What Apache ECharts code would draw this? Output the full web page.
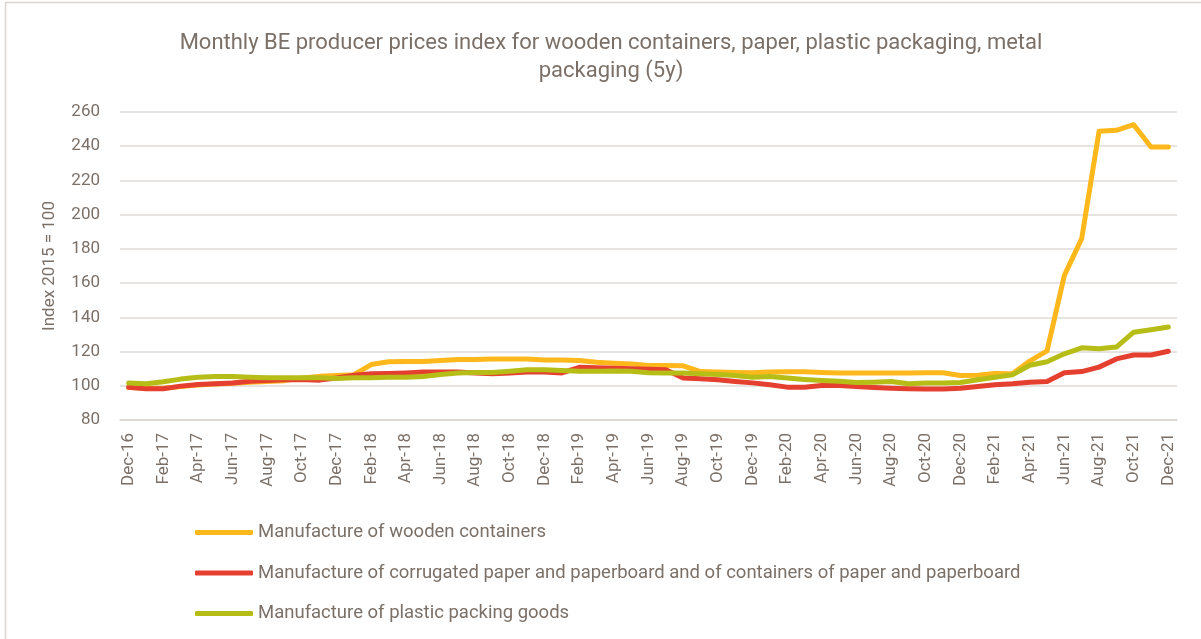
<!DOCTYPE html>
<html>
<head>
<meta charset="utf-8">
<title>BE producer prices index</title>
<script src="https://cdn.jsdelivr.net/npm/echarts@6/dist/echarts.min.js"></script>
<style>
  html, body { margin: 0; padding: 0; background: #fff; }
  #chart { width: 1201px; height: 639px; }
</style>
</head>
<body>
<div id="chart"></div>
<script>
// months Dec-16 .. Dec-21
var monthNames = ['Jan', 'Feb', 'Mar', 'Apr', 'May', 'Jun', 'Jul', 'Aug', 'Sep', 'Oct', 'Nov', 'Dec'];
var months = ['Dec-16'];
for (var y = 17; y <= 21; y++) {
    for (var m = 0; m < 12; m++) months.push(monthNames[m] + '-' + y);
}

var woodenContainers = [
    99, 98.5, 98.5, 99.5, 100.5, 101, 101.5, 102, 102.5, 103, 104.5, 105.5, 106,
    106.5, 112.4, 114, 114.2, 114.2, 114.8, 115.3, 115.3, 115.7, 115.7, 115.7, 115.1,
    115.1, 114.8, 113.8, 113.2, 112.8, 111.8, 111.8, 111.7, 108.3, 108, 107.8, 107.6,
    108, 108.2, 108.2, 107.8, 107.4, 107.4, 107.4, 107.4, 107.4, 107.6, 107.6, 106,
    106.2, 107.2, 107, 114.4, 120.4, 164.5, 186, 248.7, 249.3, 252.6, 239.5, 239.5
];
var corrugatedPaper = [
    99.2, 98.3, 98.3, 99.8, 100.8, 101.2, 101.6, 102.7, 103.1, 103.5, 103.7, 103.3, 104.5,
    106.2, 107, 107.2, 107.5, 108, 108, 108, 107.5, 107, 107.5, 108, 108,
    107.5, 110.8, 110.5, 110.3, 110, 109.7, 109.3, 104.5, 104.1, 103.5, 102.5, 101.7,
    100.6, 99.2, 99.2, 100.2, 100.2, 99.6, 99, 98.6, 98.3, 98.1, 98.1, 98.6,
    99.6, 100.6, 101.2, 102.1, 102.5, 107.6, 108.3, 110.9, 115.7, 118, 118, 120.2
];
var plasticGoods = [
    101.6, 101.2, 102.3, 103.9, 105, 105.4, 105.4, 105, 104.7, 104.7, 104.7, 104.7, 104.3,
    104.7, 104.7, 105, 105, 105.4, 106.6, 107.4, 107.8, 107.8, 108.5, 109.3, 109.3,
    108.9, 108.5, 108.5, 108.7, 108.5, 107.6, 107.4, 107.4, 107, 106.6, 106, 105,
    105.4, 104.5, 103.7, 103.1, 102.7, 101.9, 102.1, 102.5, 101.2, 101.6, 101.6, 101.9,
    103.5, 105, 106.4, 112, 114, 118.7, 122.2, 121.6, 122.6, 131.3, 132.7, 134.3
];

var textColor = '#7b7068';
var font = 'Roboto';

var chart = echarts.init(document.getElementById('chart'));
var option = {
    backgroundColor: '#fff',
    animation: false,
    textStyle: { fontFamily: font },
    graphic: [{
        type: 'rect',
        shape: { x: 5.5, y: 2.5, width: 1220, height: 660 },
        style: { fill: 'none', stroke: '#d9d6d3', lineWidth: 1.5 },
        silent: true
    }],
    title: {
        text: 'Monthly BE producer prices index for wooden containers, paper, plastic packaging, metal\npackaging (5y)',
        left: 606,
        textAlign: 'center',
        top: 24,
        textStyle: {
            color: textColor,
            fontFamily: font,
            fontWeight: 'normal',
            fontSize: 22,
            lineHeight: 28
        }
    },
    legend: {
        orient: 'vertical',
        left: 190,
        top: 518,
        icon: 'roundRect',
        itemWidth: 58,
        itemHeight: 5,
        itemGap: 21.5,
        textStyle: { color: textColor, fontSize: 18.5, lineHeight: 18 },
        data: [
            'Manufacture of wooden containers',
            'Manufacture of corrugated paper and paperboard and of containers of paper and paperboard',
            'Manufacture of plastic packing goods'
        ]
    },
    grid: { left: 120, right: 24, top: 112, bottom: 219 },
    xAxis: {
        type: 'category',
        data: months,
        boundaryGap: true,
        axisLine: { lineStyle: { color: '#d9d6d3', width: 1.5 } },
        axisTick: { show: false },
        axisLabel: {
            interval: 1,
            rotate: 90,
            margin: 13,
            color: textColor,
            fontSize: 17
        }
    },
    yAxis: {
        type: 'value',
        min: 80,
        max: 260,
        interval: 20,
        name: 'Index 2015 = 100',
        nameLocation: 'middle',
        nameGap: 62,
        nameTextStyle: { color: textColor, fontSize: 17 },
        axisLine: { show: false },
        axisTick: { show: false },
        axisLabel: { color: textColor, fontSize: 17, margin: 20 },
        splitLine: { lineStyle: { color: '#dedad7', width: 1.5 } }
    },
    series: [
        {
            name: 'Manufacture of wooden containers',
            type: 'line',
            data: woodenContainers,
            showSymbol: false,
            color: '#ffb81c',
            lineStyle: { width: 5, cap: 'round', join: 'round' }
        },
        {
            name: 'Manufacture of corrugated paper and paperboard and of containers of paper and paperboard',
            type: 'line',
            data: corrugatedPaper,
            showSymbol: false,
            color: '#e5402f',
            lineStyle: { width: 5, cap: 'round', join: 'round' }
        },
        {
            name: 'Manufacture of plastic packing goods',
            type: 'line',
            data: plasticGoods,
            showSymbol: false,
            color: '#b7bd17',
            lineStyle: { width: 5, cap: 'round', join: 'round' }
        }
    ]
};
chart.setOption(option);
</script>
</body>
</html>
